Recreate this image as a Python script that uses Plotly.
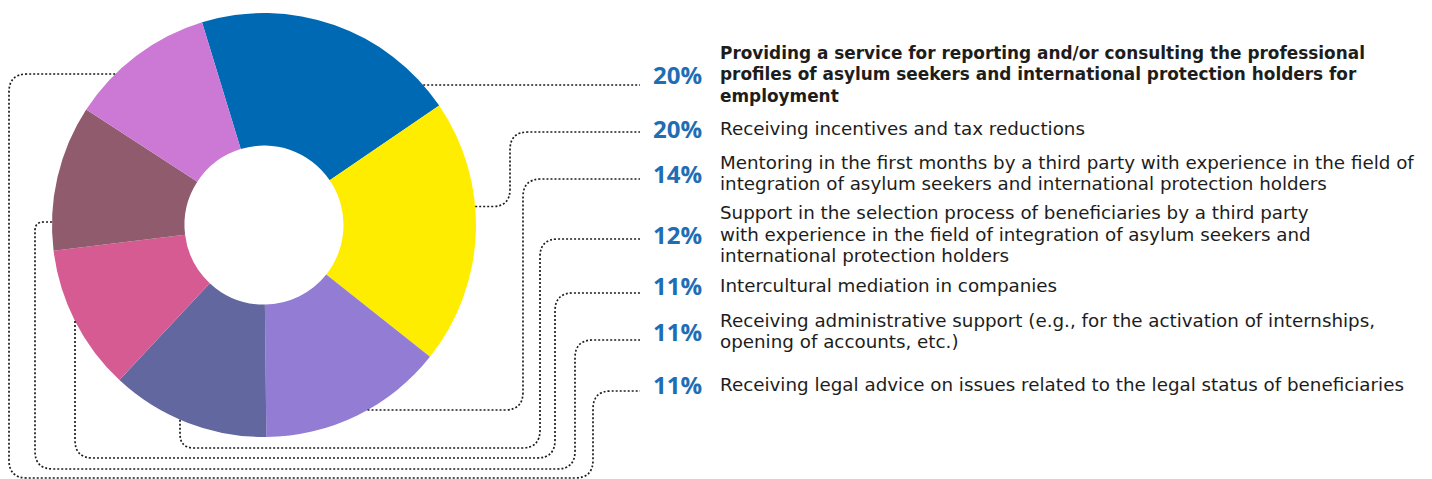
import numpy as np
import plotly.graph_objects as go

# ---- data -----------------------------------------------------------------
shares = [20, 20, 14, 12, 11, 11, 11]
pct_labels = ["20%", "20%", "14%", "12%", "11%", "11%", "11%"]
categories = [
    "Providing a service for reporting and/or consulting the professional profiles of asylum seekers and international protection holders for employment",
    "Receiving incentives and tax reductions",
    "Mentoring in the first months by a third party with experience in the field of integration of asylum seekers and international protection holders",
    "Support in the selection process of beneficiaries by a third party with experience in the field of integration of asylum seekers and international protection holders",
    "Intercultural mediation in companies",
    "Receiving administrative support (e.g., for the activation of internships, opening of accounts, etc.)",
    "Receiving legal advice on issues related to the legal status of beneficiaries",
]
# wrapped text lines, as set in the legend column
category_lines = [
    ["Providing a service for reporting and/or consulting the professional",
     "profiles of asylum seekers and international protection holders for",
     "employment"],
    ["Receiving incentives and tax reductions"],
    ["Mentoring in the first months by a third party with experience in the field of",
     "integration of asylum seekers and international protection holders"],
    ["Support in the selection process of beneficiaries by a third party",
     "with experience in the field of integration of asylum seekers and",
     "international protection holders"],
    ["Intercultural mediation in companies"],
    ["Receiving administrative support (e.g., for the activation of internships,",
     "opening of accounts, etc.)"],
    ["Receiving legal advice on issues related to the legal status of beneficiaries"],
]
bold_rows = [True, False, False, False, False, False, False]

# ---- styling / layout ------------------------------------------------------
colors = ["#0069b4", "#ffed00", "#937cd4", "#63679f", "#d65b93", "#8f5b6d", "#cc79d6"]
W, H = 1432, 479
CX, CY, R = 264, 225, 212          # donut centre and outer radius (px)
HOLE = 0.375
ROTATION = -17                     # first slice starts just left of 12 o'clock

row_y = [74, 128, 173, 234, 285, 331, 384]    # centre of each legend row (px)
link_y = [85, 132, 179, 239, 293, 340, 391]   # height where each connector meets its row
LINE_GAP = 21.5
PCT_RIGHT = 703
TEXT_LEFT = 719
LINK_END = 640

PCT_COLOR = "#1f6db4"
TEXT_COLOR = "#1d1d1b"
PCT_FONT = "Open Sans"
TEXT_FONT = "DejaVu Sans"
PCT_SIZE = 24
TEXT_SIZE = 18.3
BOLD_SIZE = 16.9

fig = go.Figure()

fig.add_trace(go.Pie(
    values=shares,
    labels=categories,
    marker=dict(colors=colors, line=dict(width=0)),
    hole=HOLE,
    sort=False,
    direction="clockwise",
    rotation=ROTATION,
    textinfo="none",
    hoverinfo="label+percent",
    showlegend=False,
    domain=dict(x=[(CX - R) / W, (CX + R) / W],
                y=[1 - (CY + R) / H, 1 - (CY - R) / H]),
))


# ---- connector routing -----------------------------------------------------
def circle_x(y, side):
    return CX + side * np.sqrt(R ** 2 - (y - CY) ** 2)


def circle_y(x, side):
    return CY + side * np.sqrt(R ** 2 - (x - CX) ** 2)


def rounded_path(pts, radius=18):
    pts = [np.array(p, dtype=float) for p in pts]
    d = f"M {pts[0][0]:.2f},{pts[0][1]:.2f}"
    for i in range(1, len(pts) - 1):
        p_prev, p, p_next = pts[i - 1], pts[i], pts[i + 1]
        v_in = p - p_prev
        v_out = p_next - p
        l_in, l_out = np.linalg.norm(v_in), np.linalg.norm(v_out)
        r = min(radius, l_in / 2, l_out / 2)
        a = p - v_in / l_in * r
        b = p + v_out / l_out * r
        d += f" L {a[0]:.2f},{a[1]:.2f} Q {p[0]:.2f},{p[1]:.2f} {b[0]:.2f},{b[1]:.2f}"
    d += f" L {pts[-1][0]:.2f},{pts[-1][1]:.2f}"
    return d


routes = []
# 1: straight across from the right-hand rim
routes.append([(circle_x(link_y[0], 1), link_y[0]), (LINK_END, link_y[0])])
# 2: from the right rim, short run, then up
a = np.deg2rad(85)
p0 = (CX + R * np.sin(a), CY - R * np.cos(a))
routes.append([p0, (510, p0[1]), (510, link_y[1]), (LINK_END, link_y[1])])
# 3: lower right rim, across, then up
y3 = 410
routes.append([(circle_x(y3, 1), y3), (523, y3), (523, link_y[2]), (LINK_END, link_y[2])])
# 4: down from the bottom rim, under the donut, then up
x4 = 180
routes.append([(x4, circle_y(x4, 1)), (x4, 448), (540, 448), (540, link_y[3]), (LINK_END, link_y[3])])
# 5: down from the lower left rim
x5 = 75
routes.append([(x5, circle_y(x5, 1)), (x5, 458), (555, 458), (555, link_y[4]), (LINK_END, link_y[4])])
# 6: left from the left rim, down, under, up
y6 = 222
routes.append([(circle_x(y6, -1), y6), (35, y6), (35, 469), (575, 469), (575, link_y[5]), (LINK_END, link_y[5])])
# 7: left from the upper left rim, around the outside
y7 = 74
routes.append([(circle_x(y7, -1), y7), (9, y7), (9, 478), (593, 478), (593, link_y[6]), (LINK_END, link_y[6])])

shapes = []
for pts in routes:
    shapes.append(dict(
        type="path", xref="x", yref="y", path=rounded_path(pts),
        line=dict(color=TEXT_COLOR, width=1.7, dash="2px,2px"),
        layer="above",
    ))

# ---- legend column ---------------------------------------------------------
annotations = []
for i, (pct, lines, yc) in enumerate(zip(pct_labels, category_lines, row_y)):
    annotations.append(dict(
        x=PCT_RIGHT, y=yc, xref="x", yref="y", xanchor="right", yanchor="middle",
        text=f"<b>{pct}</b>", showarrow=False, borderpad=0,
        font=dict(family=PCT_FONT, size=PCT_SIZE, color=PCT_COLOR),
    ))
    n = len(lines)
    for j, line in enumerate(lines):
        ly = yc + (j - (n - 1) / 2) * LINE_GAP
        txt = f"<b>{line}</b>" if bold_rows[i] else line
        annotations.append(dict(
            x=TEXT_LEFT, y=ly, xref="x", yref="y", xanchor="left", yanchor="middle",
            text=txt, showarrow=False, borderpad=0,
            font=dict(family=TEXT_FONT, size=BOLD_SIZE if bold_rows[i] else TEXT_SIZE,
                      color=TEXT_COLOR),
        ))

fig.update_layout(
    width=W, height=H,
    margin=dict(l=0, r=0, t=0, b=0),
    paper_bgcolor="white", plot_bgcolor="rgba(0,0,0,0)",
    xaxis=dict(range=[0, W], visible=False, fixedrange=True),
    yaxis=dict(range=[H, 0], visible=False, fixedrange=True),
    shapes=shapes,
    annotations=annotations,
    showlegend=False,
)

fig.write_html("out.html")
